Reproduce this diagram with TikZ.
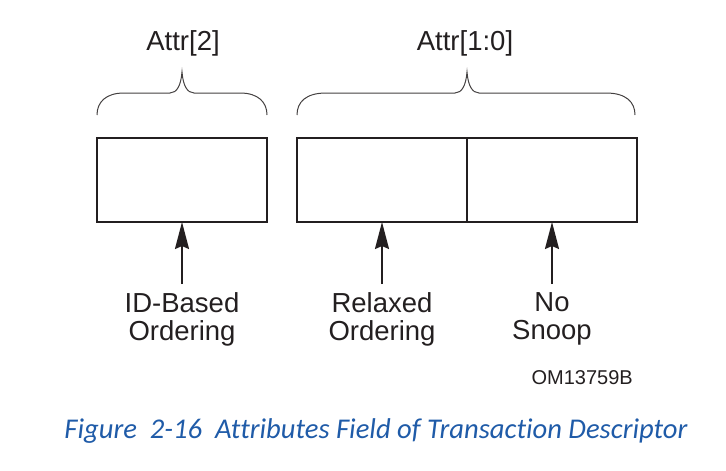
\documentclass[tikz,border=0pt]{standalone}
\usepackage{fontspec}
\setmainfont{Liberation Sans}
\newfontfamily\capfont[Ligatures={CommonOff,RareOff,ContextualOff}]{Carlito}
\usepackage{tikz}
\usetikzlibrary{arrows.meta,positioning}
\definecolor{captionblue}{RGB}{31,91,168}
\definecolor{inkgray}{RGB}{35,31,32}

\begin{document}
\begin{tikzpicture}[x=1pt, y=-1pt, node distance=70pt,
    field/.style={draw=inkgray, line width=2pt, minimum width=170pt, minimum height=84pt, inner sep=0pt, outer sep=0pt},
    lbl/.style={align=center, inner sep=0pt, text=inkgray, font=\fontsize{27.5}{28}\selectfont},
    ptr/.style={draw=inkgray, line width=2pt, shorten <=8pt, -{Stealth[length=27pt, width=14pt, inset=3pt]}},
    bracket/.style={draw=inkgray!85, line width=1pt}]
  \useasboundingbox (0,0) rectangle (726,471);
  % attribute bit fields
  \node (ro) [field] at (382,180) {};
  \node (ns) [field, right=0pt of ro] {};
  \node (ido) [field, left=30pt of ro] {};
  % what each bit means
  \node (idolbl) [lbl, below=of ido] {ID-Based\\Ordering};
  \node (rolbl) [lbl, below=of ro] {Relaxed\\Ordering};
  \node (nslbl) [lbl, below=of ns] {No\\Snoop};
  \draw[ptr] (idolbl) -- (ido);
  \draw[ptr] (rolbl) -- (ro);
  \draw[ptr] (nslbl) -- (ns);
  % braces over the fields
  \draw[bracket] (97,115) .. controls (97,102) and (106,93) .. (124,93) -- (170,93)
    .. controls (177,93) and (181,85) .. (182,72) .. controls (183,85) and (187,93) .. (194,93)
    -- (240,93) .. controls (258,93) and (267,102) .. (267,115);
  \draw[bracket] (297,115) .. controls (297,102) and (306,93) .. (326,93) -- (455,93)
    .. controls (462,93) and (466,85) .. (467,72) .. controls (468,85) and (472,93) .. (479,93)
    -- (606,93) .. controls (626,93) and (635,102) .. (635,115);
  \node (attrhi) [lbl, anchor=base] at (183,50) {Attr[2]};
  \node (attrlo) [lbl, anchor=base] at (465,50) {Attr[1:0]};
  \node (figid) [lbl, anchor=base east, font=\fontsize{20}{22}\selectfont] at (633,384) {OM13759B};
  \node (caption) [anchor=base, text=captionblue, font=\capfont\itshape\fontsize{28.6}{30}\selectfont] at (376,438)
    {Figure\ \ 2-16\ \ Attributes Field of Transaction Descriptor};
\end{tikzpicture}
\end{document}
